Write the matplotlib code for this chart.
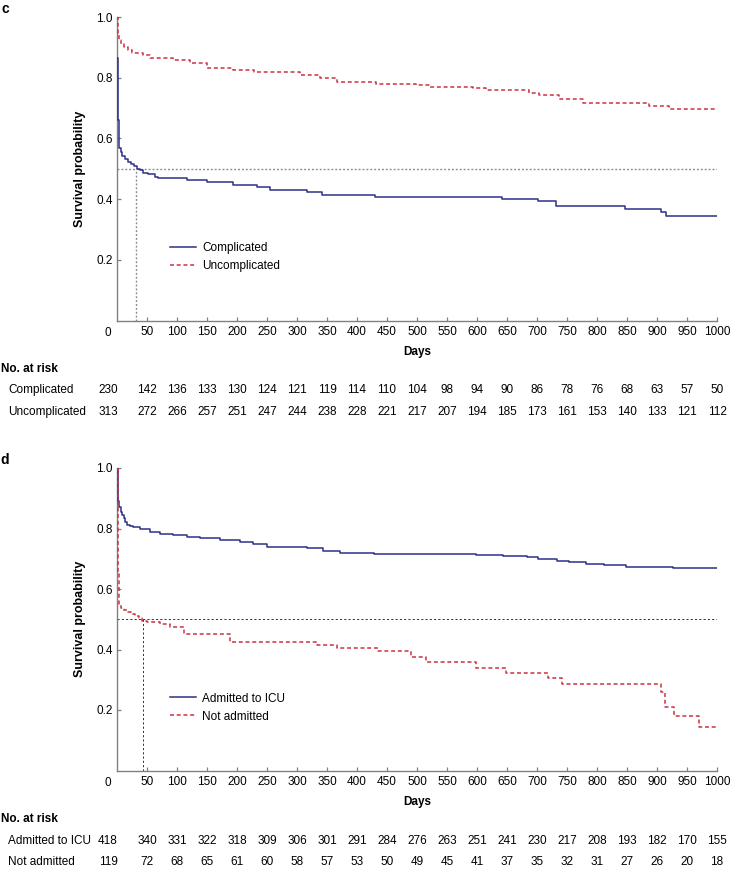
"""Kaplan-Meier style survival curves with numbers at risk (panels c and d)."""
import matplotlib.pyplot as plt

plt.rcParams['font.family'] = ['Liberation Sans', 'DejaVu Sans']
plt.rcParams['font.size'] = 8.5

W, H = 732, 873  # figure size in pixels

# --- panel c: complicated vs uncomplicated ---
comp_days = [0, 1, 2, 3, 4, 6, 9, 13, 19, 24, 29, 33, 38, 44, 52, 63, 69, 116, 150, 194,
             233, 255, 316, 341, 366, 430, 642, 701, 731, 847, 907, 915, 1000]
comp_surv = [0.865, 0.75, 0.66, 0.60, 0.57, 0.555, 0.543, 0.532, 0.523, 0.515, 0.508, 0.50,
             0.495, 0.487, 0.483, 0.474, 0.47, 0.462, 0.455, 0.448, 0.44, 0.43, 0.422, 0.415,
             0.412, 0.407, 0.40, 0.393, 0.377, 0.367, 0.357, 0.344, 0.344]
uncomp_days = [0, 1, 2, 4, 7, 12, 18, 25, 44, 55, 94, 122, 150, 194, 228, 305, 338, 366,
               432, 498, 520, 593, 615, 687, 704, 737, 776, 887, 920, 1000]
uncomp_surv = [1.0, 0.96, 0.94, 0.925, 0.91, 0.90, 0.89, 0.88, 0.875, 0.864, 0.858, 0.847,
               0.831, 0.825, 0.82, 0.809, 0.798, 0.787, 0.78, 0.776, 0.768, 0.765, 0.759,
               0.75, 0.743, 0.73, 0.718, 0.706, 0.696, 0.696]
median_c = 31

# --- panel d: admitted to ICU vs not admitted ---
icu_days = [0, 1, 2, 4, 6, 8, 11, 14, 17, 22, 27, 38, 55, 72, 94, 116, 138, 172, 205, 227,
            250, 316, 344, 372, 429, 598, 643, 684, 701, 734, 753, 781, 812, 848, 926, 1000]
icu_surv = [1.0, 0.93, 0.89, 0.87, 0.855, 0.845, 0.835, 0.822, 0.812, 0.807, 0.804, 0.797,
            0.789, 0.782, 0.777, 0.773, 0.77, 0.762, 0.756, 0.749, 0.74, 0.735, 0.727, 0.72,
            0.715, 0.711, 0.708, 0.705, 0.699, 0.692, 0.688, 0.683, 0.678, 0.674, 0.668, 0.668]
noadm_days = [0, 1, 2, 3, 4, 6, 12, 18, 24, 30, 36, 42, 50, 72, 89, 111, 188, 333, 366, 435,
              490, 515, 598, 648, 718, 742, 906, 914, 928, 970, 1000]
noadm_surv = [1.0, 0.80, 0.65, 0.58, 0.55, 0.536, 0.53, 0.525, 0.518, 0.51, 0.503, 0.495,
              0.49, 0.484, 0.475, 0.45, 0.424, 0.415, 0.404, 0.395, 0.376, 0.36, 0.338, 0.321,
              0.305, 0.286, 0.26, 0.211, 0.18, 0.145, 0.145]
median_d = 44

# --- numbers at risk ---
risk_days = list(range(0, 1001, 50))
risk_comp = [230, 142, 136, 133, 130, 124, 121, 119, 114, 110, 104, 98, 94, 90, 86, 78, 76, 68, 63, 57, 50]
risk_uncomp = [313, 272, 266, 257, 251, 247, 244, 238, 228, 221, 217, 207, 194, 185, 173, 161, 153, 140, 133, 121, 112]
risk_icu = [418, 340, 331, 322, 318, 309, 306, 301, 291, 284, 276, 263, 251, 241, 230, 217, 208, 193, 182, 170, 155]
risk_noadm = [119, 72, 68, 65, 61, 60, 58, 57, 53, 50, 49, 45, 41, 37, 35, 32, 31, 27, 26, 20, 18]

BLUE = '#2d3088'
RED = '#cc3340'
GREY = '#808080'


def draw_panel(fig, top_px, bottom_px, letter, curves, median, med_style, risk_rows):
    """Draw one survival panel and its risk table below it."""
    ax = fig.add_axes([117 / W, 1 - bottom_px / H, 600 / W, (bottom_px - top_px) / H])
    height = bottom_px - top_px

    for days, surv, label, color, ls in curves:
        line, = ax.step(days, surv, where='post', color=color, lw=1.1, label=label, zorder=3)
        if ls == 'dashed':
            line.set_dashes((2.6, 1.8))

    # median reference lines
    ax.plot([0, 1000], [0.5, 0.5], **med_style, zorder=2)
    ax.plot([median, median], [0, 0.5], **med_style, zorder=2)

    ax.set_xlim(0, 1000)
    ax.set_ylim(0, 1)
    ax.set_xticks(risk_days[1:])
    ax.set_yticks([0.2, 0.4, 0.6, 0.8, 1.0])
    ax.set_yticklabels(['0.2', '0.4', '0.6', '0.8', '1.0'])
    ax.tick_params(direction='in', length=3, width=0.9, color=GREY)
    ax.tick_params(axis='x', pad=4)
    ax.tick_params(axis='y', pad=3)
    for side in ['top', 'right']:
        ax.spines[side].set_visible(False)
    for side in ['left', 'bottom']:
        ax.spines[side].set_color(GREY)
        ax.spines[side].set_linewidth(1.0)

    # "0" label sits a little left of the spine
    ax.annotate('0', xy=(0, 0), xycoords='data', xytext=(-9, -12), textcoords='offset pixels',
                ha='center', va='center')

    ax.text(0.5, -32 / height, 'Days', transform=ax.transAxes, ha='center', va='center',
            weight='bold')
    ax.text(-37 / 600, 0.5, 'Survival probability', transform=ax.transAxes, rotation=90,
            ha='center', va='center', weight='bold', fontsize=9)

    ax.legend(loc='center left', bbox_to_anchor=(0.088, 0.208), frameon=False,
              borderaxespad=0, borderpad=0, handlelength=2.2, handletextpad=0.55,
              labelspacing=0.5)

    fig.text(5 / W, 1 - (top_px - 8) / H, letter, weight='bold', fontsize=10,
             ha='center', va='center')

    # numbers at risk
    fig.text(1 / W, 1 - (bottom_px + 48) / H, 'No. at risk', weight='bold', va='center')
    for i, (name, values) in enumerate(risk_rows):
        y = 1 - (bottom_px + 70 + 21.5 * i) / H
        fig.text(8 / W, y, name, va='center')
        for day, val in zip(risk_days, values):
            shift = -9 if day == 0 else 0
            ax.annotate(str(val), xy=(day, y), xycoords=('data', 'figure fraction'),
                        xytext=(shift, 0), textcoords='offset pixels',
                        ha='center', va='center', annotation_clip=False)
    return ax


fig = plt.figure(figsize=(W / 100, H / 100), dpi=100)

draw_panel(fig, 17, 320.5, 'c',
           [(comp_days, comp_surv, 'Complicated', BLUE, 'solid'),
            (uncomp_days, uncomp_surv, 'Uncomplicated', RED, 'dashed')],
           median_c, dict(color='#8c8c8c', lw=1.0, dashes=(1.4, 1.4)),
           [('Complicated', risk_comp), ('Uncomplicated', risk_uncomp)])

draw_panel(fig, 468, 770.5, 'd',
           [(icu_days, icu_surv, 'Admitted to ICU', BLUE, 'solid'),
            (noadm_days, noadm_surv, 'Not admitted', RED, 'dashed')],
           median_d, dict(color='#333333', lw=0.7, dashes=(2.2, 2.2)),
           [('Admitted to ICU', risk_icu), ('Not admitted', risk_noadm)])

fig.savefig('out.png', dpi=100)
